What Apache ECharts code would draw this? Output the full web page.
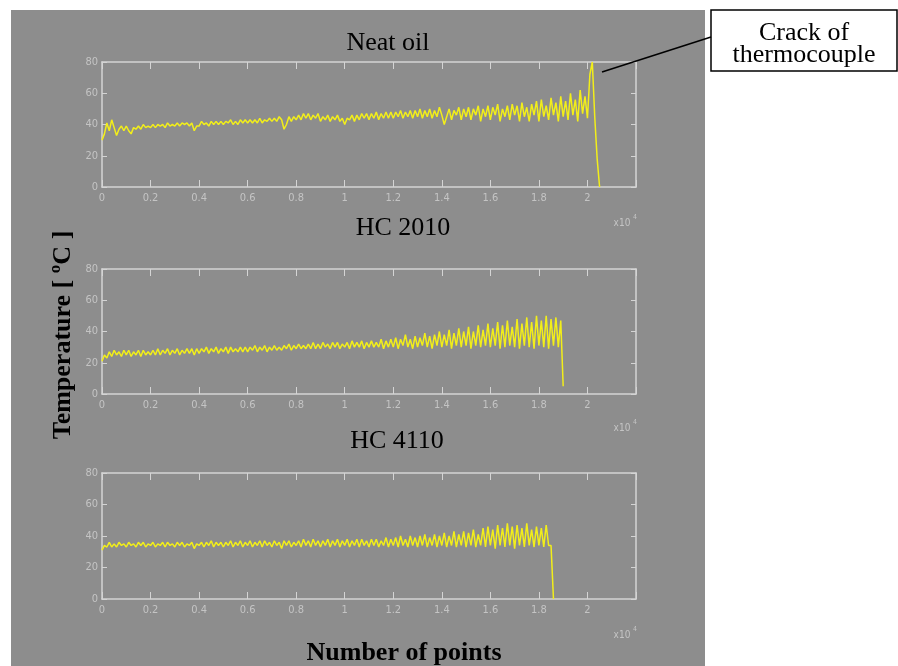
<!DOCTYPE html>
<html>
<head>
<meta charset="utf-8">
<script src="https://cdn.jsdelivr.net/npm/echarts@6/dist/echarts.min.js"></script>
<style>
html, body { margin: 0; padding: 0; background: #fff; }
#chart { width: 898px; height: 666px; }
</style>
</head>
<body>
<div id="chart"></div>
<script>
// sample spacing on the x axis (units of 10^4 points)
var xStep = 0.01;

var panelTitles = ['Neat oil', 'HC 2010', 'HC 4110'];
var yTicks = { min: 0, max: 80, interval: 20 };
var xTicks = { min: 0, max: 2.2, interval: 0.2 };

// temperature readings, one value per 0.01 x10^4 points
var neatOil = [
    30, 34, 41, 36, 43, 38, 33, 37, 39, 36,
    39, 36, 34, 38, 37, 39, 37, 40, 38, 39,
    38, 40, 38, 40, 39, 40, 38, 41, 39, 40,
    39, 41, 39, 41, 40, 41, 39, 41, 36, 39,
    39, 42, 40, 41, 39, 42, 40, 42, 40, 42,
    40, 42, 41, 43, 40, 42, 40, 43, 41, 43,
    41, 43, 41, 43, 41, 44, 41, 43, 42, 44,
    42, 44, 42, 45, 43, 37, 40, 45, 42, 45,
    43, 46, 43, 47, 44, 47, 43, 46, 44, 47,
    42, 45, 43, 46, 42, 45, 43, 46, 42, 44,
    40, 44, 43, 46, 42, 46, 43, 47, 44, 47,
    43, 47, 44, 48, 43, 47, 44, 48, 44, 48,
    44, 48, 45, 49, 44, 48, 45, 49, 44, 49,
    45, 50, 44, 49, 45, 50, 44, 49, 45, 51,
    46, 40, 45, 50, 43, 49, 46, 51, 43, 50,
    45, 51, 43, 50, 46, 52, 42, 50, 45, 52,
    43, 51, 46, 53, 42, 50, 45, 52, 43, 53,
    46, 52, 42, 54, 45, 51, 42, 53, 46, 55,
    42, 56, 45, 52, 43, 57, 46, 54, 42, 58,
    45, 55, 43, 60, 46, 56, 42, 62, 47, 58,
    44, 72, 80, 45, 18, 0
];

var hc2010 = [
    21, 25, 23, 27, 24, 28, 25, 27, 24, 28,
    25, 28, 24, 27, 25, 28, 24, 28, 25, 27,
    25, 28, 25, 29, 25, 28, 26, 29, 25, 28,
    26, 29, 25, 28, 26, 29, 26, 29, 25, 29,
    26, 29, 27, 30, 26, 29, 27, 30, 26, 29,
    27, 30, 26, 30, 27, 29, 27, 30, 27, 30,
    27, 30, 28, 31, 27, 30, 28, 31, 27, 30,
    28, 31, 28, 30, 28, 31, 29, 32, 28, 31,
    29, 32, 29, 31, 29, 32, 29, 33, 29, 32,
    29, 33, 30, 32, 29, 33, 30, 33, 29, 32,
    30, 33, 29, 34, 30, 33, 30, 34, 29, 33,
    30, 34, 30, 33, 30, 35, 29, 34, 30, 35,
    30, 36, 29, 35, 31, 38, 30, 35, 29, 37,
    30, 36, 31, 39, 30, 37, 29, 38, 31, 40,
    30, 38, 31, 41, 29, 39, 31, 42, 30, 40,
    31, 43, 29, 40, 31, 44, 30, 41, 31, 45,
    30, 42, 31, 46, 29, 44, 30, 47, 31, 43,
    30, 48, 29, 45, 31, 49, 30, 46, 29, 50,
    31, 47, 30, 50, 29, 48, 31, 49, 30, 47,
    5
];

var hc4110 = [
    31, 34, 33, 36, 33, 35, 33, 36, 34, 35,
    33, 36, 34, 35, 33, 36, 34, 36, 33, 35,
    34, 36, 33, 35, 34, 36, 33, 36, 34, 35,
    33, 36, 34, 36, 33, 35, 34, 36, 32, 35,
    34, 36, 33, 36, 34, 37, 33, 36, 34, 36,
    33, 36, 34, 37, 33, 36, 34, 37, 33, 36,
    34, 37, 33, 36, 34, 37, 33, 37, 34, 36,
    33, 37, 34, 36, 32, 37, 34, 37, 33, 36,
    34, 37, 33, 38, 34, 37, 33, 38, 34, 37,
    33, 37, 34, 38, 33, 37, 34, 38, 33, 37,
    34, 38, 33, 37, 34, 38, 33, 38, 34, 37,
    33, 38, 34, 38, 33, 37, 34, 39, 33, 38,
    34, 39, 33, 40, 34, 38, 33, 40, 34, 39,
    33, 40, 34, 41, 33, 39, 34, 41, 33, 40,
    34, 42, 33, 40, 34, 43, 33, 41, 34, 43,
    33, 42, 34, 44, 33, 41, 34, 45, 33, 46,
    34, 44, 32, 47, 34, 45, 33, 48, 34, 46,
    32, 47, 34, 45, 33, 48, 34, 44, 33, 46,
    34, 45, 33, 47, 34, 34, 0
];

var seriesData = [neatOil, hc2010, hc4110];

function toPairs(arr) {
    return arr.map(function (v, i) {
        return [+(i * xStep).toFixed(3), v];
    });
}

var axisColor = '#d4d4d4';
var labelColor = '#c4c4c4';
var grids = [
    { left: 102, top: 62, width: 534, height: 125 },
    { left: 102, top: 269, width: 534, height: 125 },
    { left: 102, top: 473, width: 534, height: 126 }
];

var xAxes = [], yAxes = [], series = [];
grids.forEach(function (g, i) {
    // bottom axis with labels
    xAxes.push({
        type: 'value', gridIndex: i, position: 'bottom',
        min: xTicks.min, max: xTicks.max, interval: xTicks.interval,
        axisLine: { onZero: false, lineStyle: { color: axisColor, width: 1.5 } },
        axisTick: { inside: true, length: 7, lineStyle: { color: axisColor } },
        axisLabel: {
            color: labelColor, fontSize: 11, margin: 6, fontFamily: 'DejaVu Sans Condensed, DejaVu Sans',
            formatter: function (v) { return v > 2.05 ? '' : String(+v.toFixed(1)); }
        },
        splitLine: { show: false }
    });
    // top edge of the box
    xAxes.push({
        type: 'value', gridIndex: i, position: 'top',
        min: xTicks.min, max: xTicks.max, interval: xTicks.interval,
        axisLine: { onZero: false, lineStyle: { color: axisColor, width: 1.5 } },
        axisTick: { inside: true, length: 7, lineStyle: { color: axisColor } },
        axisLabel: { show: false },
        splitLine: { show: false }
    });
    yAxes.push({
        type: 'value', gridIndex: i, position: 'left',
        min: yTicks.min, max: yTicks.max, interval: yTicks.interval,
        axisLine: { show: true, onZero: false, lineStyle: { color: axisColor, width: 1.5 } },
        axisTick: { show: true, inside: true, length: 5, lineStyle: { color: axisColor } },
        axisLabel: { color: labelColor, fontSize: 11, margin: 4, fontFamily: 'DejaVu Sans Condensed, DejaVu Sans' },
        splitLine: { show: false }
    });
    yAxes.push({
        type: 'value', gridIndex: i, position: 'right',
        min: yTicks.min, max: yTicks.max, interval: yTicks.interval,
        axisLine: { show: true, onZero: false, lineStyle: { color: axisColor, width: 1.5 } },
        axisTick: { show: true, inside: true, length: 5, lineStyle: { color: axisColor } },
        axisLabel: { show: false },
        splitLine: { show: false }
    });
    series.push({
        name: panelTitles[i],
        type: 'line',
        xAxisIndex: i * 2,
        yAxisIndex: i * 2,
        data: toPairs(seriesData[i]),
        showSymbol: false,
        lineStyle: { color: '#f2ee1a', width: 1.5 },
        z: 3
    });
});

var serif = '"Liberation Serif", "Times New Roman", serif';
function label(txt, x, y, size, bold, extra) {
    var el = {
        type: 'text', x: x, y: y, z: 100,
        style: {
            text: txt, fill: '#000',
            font: (bold ? 'bold ' : '') + size + 'px ' + serif,
            align: 'center', verticalAlign: 'middle'
        }
    };
    for (var k in extra) el[k] = extra[k];
    return el;
}
function scaleNote(y) {
    return [
        { type: 'text', x: 622, y: y, z: 100,
          style: { text: 'x10', fill: labelColor, font: '10px "DejaVu Sans Condensed"', align: 'center', verticalAlign: 'middle' } },
        { type: 'text', x: 633, y: y - 6, z: 100,
          style: { text: '4', fill: labelColor, font: '7px "DejaVu Sans Condensed"', align: 'left', verticalAlign: 'middle' } }
    ];
}

var graphics = [
    { type: 'rect', z: -10, shape: { x: 11, y: 10, width: 694, height: 656 }, style: { fill: '#8d8d8d' } },
    label(panelTitles[0], 388, 43, 26, false),
    label(panelTitles[1], 403, 228, 26, false),
    label(panelTitles[2], 397, 441, 26, false),
    label('Temperature [ ºC ]', 63, 335, 26, true, { rotation: Math.PI / 2 }),
    label('Number of points', 404, 653, 26, true),
    { type: 'rect', z: 100, shape: { x: 711, y: 10, width: 186, height: 61 },
      style: { fill: '#fff', stroke: '#000', lineWidth: 1.5 } },
    label('Crack of', 804, 33, 26, false),
    label('thermocouple', 804, 55, 26, false),
    { type: 'line', z: 100, shape: { x1: 602, y1: 72, x2: 711, y2: 37 },
      style: { stroke: '#000', lineWidth: 1.5 } }
].concat(scaleNote(223), scaleNote(428), scaleNote(635));

var chart = echarts.init(document.getElementById('chart'));
chart.setOption({
    animation: false,
    backgroundColor: '#fff',
    grid: grids,
    xAxis: xAxes,
    yAxis: yAxes,
    series: series,
    graphic: { elements: graphics }
});
</script>
</body>
</html>
